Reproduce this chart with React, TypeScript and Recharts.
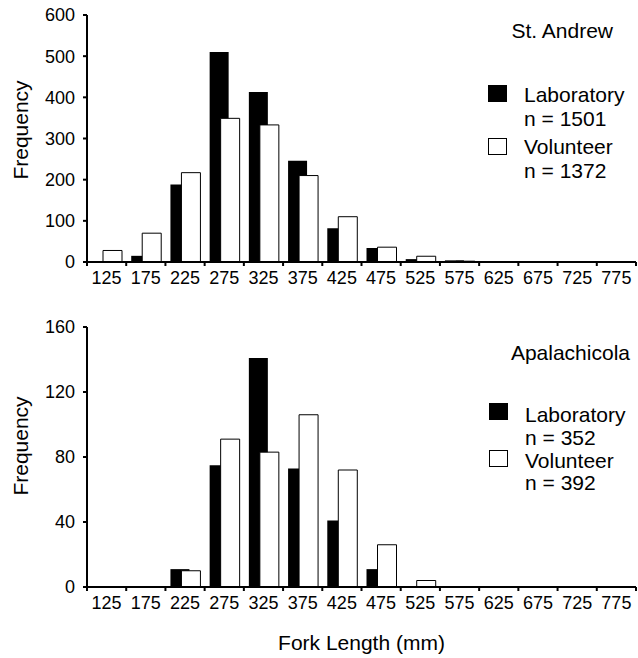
import { BarChart, Bar, XAxis, YAxis } from 'recharts';

// fork length bins (mm, bin midpoints)
const bins = ['125', '175', '225', '275', '325', '375', '425', '475', '525', '575', '625', '675', '725', '775'];

const seriesNames = ['Laboratory', 'Volunteer'];

// St. Andrew counts
const standrewLab = [0, 15, 188, 510, 413, 246, 82, 34, 7, 4, 1, 0, 1, 0];
const standrewVol = [28, 70, 217, 349, 333, 210, 110, 36, 14, 2, 1, 1, 1, 0];
const standrewTicks = [0, 100, 200, 300, 400, 500, 600];

// Apalachicola counts
const apalachLab = [0, 0, 11, 75, 141, 73, 41, 11, 0, 0, 0, 0, 0, 0];
const apalachVol = [0, 0, 10, 91, 83, 106, 72, 26, 4, 0, 0, 0, 0, 0];
const apalachTicks = [0, 40, 80, 120, 160];

const FONT = '"Liberation Sans", Arial, Helvetica, sans-serif';
const W = 638;
const PLOT_LEFT = 87;
const PLOT_RIGHT = 636;
const HALF_BAND = (PLOT_RIGHT - PLOT_LEFT) / bins.length / 2;
const TICK_SIZE = 4;
const TICK_MARGIN = 5;
const TICK_FONT = 18;

const total = (a: number[]) => a.reduce((s, v) => s + v, 0);

// x labels sit in the middle of each bin, tick marks on the bin edges
function BinTick(props: any) {
  const { x, y, payload, index } = props;
  const y0 = y - TICK_MARGIN - TICK_SIZE;
  const y1 = y - TICK_MARGIN;
  const last = index === bins.length - 1;
  return (
    <g>
      <line x1={x - HALF_BAND} x2={x - HALF_BAND} y1={y0} y2={y1} stroke="#000" strokeWidth={2} />
      {last && <line x1={x + HALF_BAND} x2={x + HALF_BAND} y1={y0} y2={y1} stroke="#000" strokeWidth={2} />}
      <text x={x} y={y} dy="0.71em" textAnchor="middle" fontSize={TICK_FONT} fontFamily={FONT} fill="#000">
        {payload.value}
      </text>
    </g>
  );
}

function Panel({
  lab, vol, ticks, height, margin,
}: {
  lab: number[];
  vol: number[];
  ticks: number[];
  height: number;
  margin: { top: number; right: number; bottom: number; left: number };
}) {
  const data = bins.map((b, i) => ({ bin: b, lab: lab[i], vol: vol[i] }));
  return (
    <BarChart width={W} height={height} data={data} margin={margin} barSize={19} barGap={-8}>
      <XAxis
        dataKey="bin"
        height={30}
        interval={0}
        tickLine={false}
        tickSize={TICK_SIZE}
        tickMargin={TICK_MARGIN}
        tick={<BinTick />}
        axisLine={{ stroke: '#000', strokeWidth: 2 }}
      />
      <YAxis
        width={PLOT_LEFT}
        domain={[ticks[0], ticks[ticks.length - 1]]}
        ticks={ticks}
        interval={0}
        tickSize={TICK_SIZE}
        tickMargin={8}
        tick={{ fill: '#000', fontSize: TICK_FONT, fontFamily: FONT }}
        tickLine={{ stroke: '#000', strokeWidth: 2 }}
        axisLine={{ stroke: '#000', strokeWidth: 2 }}
      />
      <Bar dataKey="lab" name={seriesNames[0]} fill="#000" isAnimationActive={false} />
      <Bar dataKey="vol" name={seriesNames[1]} fill="#fff" stroke="#000" strokeWidth={1} isAnimationActive={false} />
    </BarChart>
  );
}

function LegendBlock({ x, y, boxTop, rows, counts }: {
  x: number; y: number[]; boxTop: number[]; rows: string[]; counts: number[];
}) {
  return (
    <g fontFamily={FONT} fontSize={21} fill="#000">
      <rect x={x} y={boxTop[0]} width={19} height={17} fill="#000" />
      <rect x={x + 0.5} y={boxTop[1] + 0.5} width={18} height={16} fill="#fff" stroke="#000" />
      <text x={x + 36} y={y[0]}>{rows[0]}</text>
      <text x={x + 36} y={y[1]}>n = {counts[0]}</text>
      <text x={x + 36} y={y[2]}>{rows[1]}</text>
      <text x={x + 36} y={y[3]}>n = {counts[1]}</text>
    </g>
  );
}

export default function App() {
  return (
    <div style={{ position: 'absolute', left: 0, top: 0, width: W, height: 658, background: '#fff' }}>
      <div style={{ position: 'absolute', left: 0, top: 0 }}>
        <Panel lab={standrewLab} vol={standrewVol} ticks={standrewTicks} height={300}
          margin={{ top: 15, right: W - PLOT_RIGHT, bottom: 8, left: 0 }} />
      </div>
      <div style={{ position: 'absolute', left: 0, top: 300 }}>
        <Panel lab={apalachLab} vol={apalachVol} ticks={apalachTicks} height={320}
          margin={{ top: 27, right: W - PLOT_RIGHT, bottom: 3, left: 0 }} />
      </div>
      <svg width={W} height={658} style={{ position: 'absolute', left: 0, top: 0, pointerEvents: 'none' }}>
        <g fontFamily={FONT} fill="#000">
          <text x={613} y={38} fontSize={21} textAnchor="end">St. Andrew</text>
          <text x={630} y={360} fontSize={21} textAnchor="end">Apalachicola</text>
          <text transform="translate(28,130) rotate(-90)" fontSize={21} textAnchor="middle">Frequency</text>
          <text transform="translate(28,446) rotate(-90)" fontSize={21} textAnchor="middle">Frequency</text>
          <text x={(PLOT_LEFT + PLOT_RIGHT) / 2} y={650} fontSize={21} textAnchor="middle">Fork Length (mm)</text>
        </g>
        <LegendBlock x={488} y={[102, 126, 154, 178]} boxTop={[85, 138]} rows={seriesNames}
          counts={[total(standrewLab), total(standrewVol)]} />
        <LegendBlock x={489} y={[422, 445, 468, 490]} boxTop={[403, 450]} rows={seriesNames}
          counts={[total(apalachLab), total(apalachVol)]} />
      </svg>
    </div>
  );
}
